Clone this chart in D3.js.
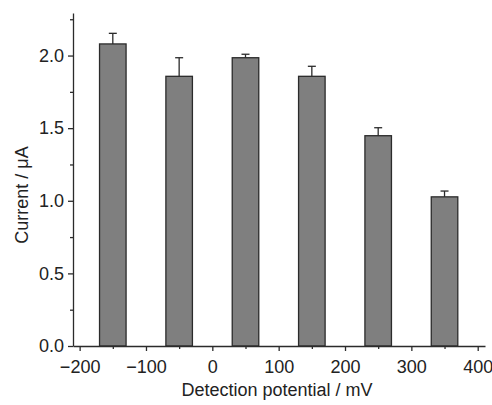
<!DOCTYPE html>
<html>
<head>
<meta charset="utf-8">
<script src="https://cdn.jsdelivr.net/npm/d3@7"></script>
<style>
  body { margin: 0; background: #fff; }
  svg { font-family: "Liberation Sans", Arial, sans-serif; }
</style>
</head>
<body>
<script>
// Data
const potentials = [-150, -50, 50, 150, 250, 350];   // mV, bar centres
const currents = [2.08, 1.857, 1.985, 1.857, 1.448, 1.027];  // µA
const errors = [0.073, 0.128, 0.024, 0.069, 0.055, 0.04];
const xTicks = [-200, -100, 0, 100, 200, 300, 400];
const yTicks = [0.0, 0.5, 1.0, 1.5, 2.0];

const width = 492;
const height = 405;
const margin = {top: 13, right: 7, bottom: 59, left: 73};
const barWidth = 40; // mV

const svg = d3.select('body')
    .append('svg')
    .attr('width', width)
    .attr('height', height);

const x = d3.scaleLinear()
    .domain([-210, 411])
    .range([margin.left, width - margin.right]);

const y = d3.scaleLinear()
    .domain([0, 2.293])
    .range([height - margin.bottom, margin.top]);

const stroke = '#2b2b2b';

// Bars
svg.append('g')
    .selectAll('rect')
    .data(potentials)
    .join('rect')
    .attr('x', d => x(d - barWidth / 2))
    .attr('width', d => x(d + barWidth / 2) - x(d - barWidth / 2))
    .attr('y', (d, i) => y(currents[i]))
    .attr('height', (d, i) => y(0) - y(currents[i]))
    .attr('fill', '#7f7f7f')
    .attr('stroke', stroke)
    .attr('stroke-width', 1.3);

// Error bars (upper only)
const err = svg.append('g')
    .attr('stroke', stroke)
    .attr('stroke-width', 1.3);
err.selectAll('line.v')
    .data(potentials)
    .join('line')
    .attr('class', 'v')
    .attr('x1', d => x(d))
    .attr('x2', d => x(d))
    .attr('y1', (d, i) => y(currents[i]))
    .attr('y2', (d, i) => y(currents[i] + errors[i]));
err.selectAll('line.h')
    .data(potentials)
    .join('line')
    .attr('class', 'h')
    .attr('x1', d => x(d) - 4)
    .attr('x2', d => x(d) + 4)
    .attr('y1', (d, i) => y(currents[i] + errors[i]))
    .attr('y2', (d, i) => y(currents[i] + errors[i]));

// Axes
const fmtX = d => d < 0 ? '\u2212' + Math.abs(d) : String(d);

svg.append('g')
    .attr('transform', `translate(0,${y(0)})`)
    .call(d3.axisBottom(x).tickValues(xTicks).tickFormat(fmtX)
        .tickSize(5).tickPadding(9).tickSizeOuter(0));
svg.append('g')
    .attr('transform', `translate(0,${y(0)})`)
    .call(d3.axisBottom(x).tickValues(xTicks.slice(0, -1).map(d => d + 50))
        .tickFormat('').tickSize(3).tickSizeOuter(0))
    .call(g => g.select('.domain').remove());

svg.append('g')
    .attr('transform', `translate(${margin.left},0)`)
    .call(d3.axisLeft(y).tickValues(yTicks).tickFormat(d3.format('.1f'))
        .tickSize(5).tickPadding(4).tickSizeOuter(0));
svg.append('g')
    .attr('transform', `translate(${margin.left},0)`)
    .call(d3.axisLeft(y).tickValues(yTicks.map(d => d + 0.25))
        .tickFormat('').tickSize(3).tickSizeOuter(0))
    .call(g => g.select('.domain').remove());

svg.selectAll('.domain, .tick line')
    .attr('stroke', stroke)
    .attr('stroke-width', 1.3);
svg.selectAll('.tick text')
    .attr('fill', '#222')
    .attr('font-size', 18)
    .attr('font-family', '"Liberation Sans", Arial, sans-serif');

// Axis titles
svg.append('text')
    .attr('x', 277)
    .attr('y', 396)
    .attr('text-anchor', 'middle')
    .attr('font-size', 18)
    .attr('fill', '#222')
    .text('Detection potential / mV');

svg.append('text')
    .attr('transform', `translate(28,${y(1.04)}) rotate(-90)`)
    .attr('text-anchor', 'middle')
    .attr('font-size', 18)
    .attr('fill', '#222')
    .text('Current / \u03bcA');
</script>
</body>
</html>
